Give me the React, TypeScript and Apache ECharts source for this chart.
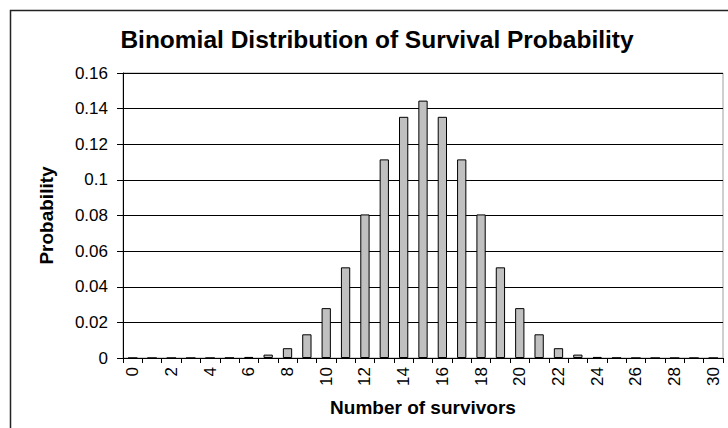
import React, { useEffect, useRef } from "react";
import * as echarts from "echarts";

const categories: string[] = Array.from({ length: 31 }, (_, i) => String(i));
const probabilities: number[] = [
  0, 0, 0, 0, 0, 0.0001, 0.0006, 0.0019, 0.0055, 0.0133, 0.028, 0.0509, 0.0806,
  0.1115, 0.1354, 0.1445, 0.1354, 0.1115, 0.0806, 0.0509, 0.028, 0.0133, 0.0055,
  0.0019, 0.0006, 0.0001, 0, 0, 0, 0, 0,
];
const titleText = "Binomial Distribution of Survival Probability";
const xName = "Number of survivors";
const yName = "Probability";

const FONT = "Arial, 'Liberation Sans', Helvetica, sans-serif";

export default function App() {
  const ref = useRef<HTMLDivElement>(null);
  useEffect(() => {
    if (!ref.current) return;
    const chart = echarts.init(ref.current, undefined, { renderer: "svg" });
    chart.setOption({
      animation: false,
      backgroundColor: "#ffffff",
      graphic: [
        {
          type: "rect",
          shape: { x: 10.5, y: 10.5, width: 740, height: 440 },
          style: { fill: "none", stroke: "#222", lineWidth: 1.5 },
          silent: true,
        },
        {
          type: "text",
          x: 377,
          y: 39,
          style: {
            text: titleText,
            font: "bold 24.5px " + FONT,
            fill: "#000",
            textAlign: "center",
            textVerticalAlign: "middle",
          },
          silent: true,
        },
      ],
      grid: { left: 123, right: 5, top: 73, bottom: 70, show: true, borderColor: "#a0a0a0", borderWidth: 1, backgroundColor: "transparent" },
      xAxis: {
        type: "category",
        data: categories,
        boundaryGap: true,
        name: xName,
        nameLocation: "middle",
        nameGap: 40,
        nameTextStyle: { fontFamily: FONT, fontSize: 19, fontWeight: "bold", color: "#000" },
        axisLine: { lineStyle: { color: "#000", width: 1 } },
        axisTick: { show: true, interval: 0, alignWithLabel: false, length: 5, lineStyle: { color: "#000" } },
        axisLabel: { interval: 1, rotate: 90, fontFamily: FONT, fontSize: 17, color: "#000", margin: 9 },
        splitLine: { show: false },
      },
      yAxis: {
        type: "value",
        min: 0,
        max: 0.16,
        interval: 0.02,
        name: yName,
        nameLocation: "middle",
        nameGap: 67,
        nameTextStyle: { fontFamily: FONT, fontSize: 19, fontWeight: "bold", color: "#000" },
        axisLine: { show: true, lineStyle: { color: "#000", width: 1 } },
        axisTick: { show: true, length: 6, lineStyle: { color: "#000" } },
        axisLabel: {
          fontFamily: FONT,
          fontSize: 17,
          color: "#000",
          margin: 15,
          formatter: (v: number) => String(parseFloat(v.toFixed(2))),
        },
        splitLine: { show: true, lineStyle: { color: "#000", width: 1 } },
      },
      series: [
        {
          type: "bar",
          data: probabilities,
          barCategoryGap: "52%",
          itemStyle: { color: "#c0c0c0", borderColor: "#000", borderWidth: 1 },
        },
      ],
    });
    return () => chart.dispose();
  }, []);
  return (
    <div
      ref={ref}
      style={{ position: "absolute", left: 0, top: 0, width: 728, height: 428 }}
    />
  );
}
